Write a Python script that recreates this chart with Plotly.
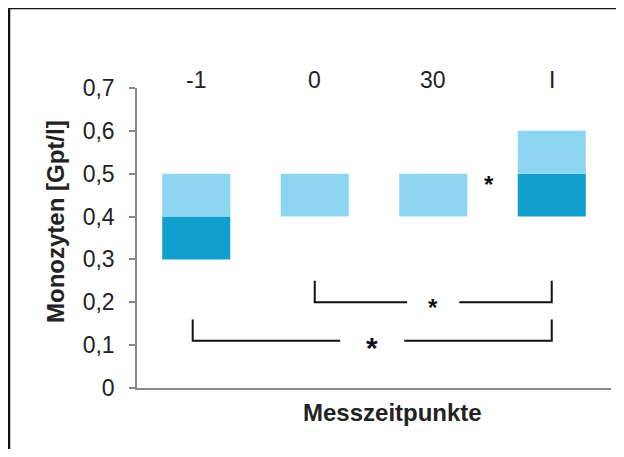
import plotly.graph_objects as go

categories = ["-1", "0", "30", "I"]
q1 = [0.3, 0.4, 0.4, 0.4]
median = [0.4, 0.4, 0.4, 0.5]
q3 = [0.5, 0.5, 0.5, 0.6]
y_ticks = [0, 0.1, 0.2, 0.3, 0.4, 0.5, 0.6, 0.7]
y_tick_labels = ["0", "0,1", "0,2", "0,3", "0,4", "0,5", "0,6", "0,7"]

# significance brackets: (from index, to index, bottom y, top y, label)
brackets = [(1, 3, 0.2, 0.25, "*"), (-0.03, 3, 0.11, 0.16, "*")]
star_single = (2.47, 0.49, "*")

DARK = "#109ecc"
LIGHT = "#8bd5f1"
FONT = "Liberation Sans, Arial, sans-serif"

x_idx = list(range(len(categories)))

fig = go.Figure()
fig.add_trace(go.Bar(x=x_idx, y=[m - a for m, a in zip(median, q1)], base=q1,
                     marker=dict(color=DARK, line=dict(width=0)), width=0.574,
                     showlegend=False, hoverinfo="skip"))
fig.add_trace(go.Bar(x=x_idx, y=[c - m for c, m in zip(q3, median)], base=median,
                     marker=dict(color=LIGHT, line=dict(width=0)), width=0.574,
                     showlegend=False, hoverinfo="skip"))

shapes = []
annotations = []
for (a, b, y0, y1, lab) in brackets:
    mid = (a + b) / 2
    gap = 0.22 if b - a < 2.5 else 0.27
    shapes.append(dict(type="path", xref="x", yref="y",
                       path=f"M {a},{y1} L {a},{y0} L {mid-gap},{y0}",
                       line=dict(color="#111", width=2)))
    shapes.append(dict(type="path", xref="x", yref="y",
                       path=f"M {mid+gap},{y0} L {b},{y0} L {b},{y1}",
                       line=dict(color="#111", width=2)))
    annotations.append(dict(x=mid, y=y0, xref="x", yref="y", text=f"<b>{lab}</b>",
                            showarrow=False, yshift=-7 if b - a > 2.5 else -5,
                            font=dict(size=30 if b - a > 2.5 else 24, color="#111", family=FONT)))

annotations.append(dict(x=star_single[0], y=star_single[1], xref="x", yref="y",
                        text=f"<b>{star_single[2]}</b>", showarrow=False, yshift=-6,
                        font=dict(size=24, color="#111", family=FONT)))

for i, c in enumerate(categories):
    annotations.append(dict(x=i, y=1.027, xref="x", yref="paper", text=c,
                            showarrow=False, font=dict(size=23, color="#222", family=FONT),
                            yanchor="middle"))

annotations.append(dict(x=(392 - 137) / 474, y=(388 - 412.5) / 300, xref="paper", yref="paper",
                        text="<b>Messzeitpunkte</b>", showarrow=False, yanchor="middle",
                        font=dict(size=24, color="#222", family=FONT)))
annotations.append(dict(x=(55 - 137) / 474, y=(388 - 222) / 300, xref="paper", yref="paper",
                        text="<b>Monozyten [Gpt/l]</b>", showarrow=False, textangle=-90,
                        xanchor="center", yanchor="middle",
                        font=dict(size=24, color="#222", family=FONT)))

# figure frame (left and top edges)
fx = (9 - 137) / 474
fy = (388 - 8) / 300
shapes.append(dict(type="line", xref="paper", yref="paper",
                   x0=fx, x1=fx, y0=fy, y1=(388 - 460) / 300,
                   line=dict(color="#111", width=2.5)))
shapes.append(dict(type="line", xref="paper", yref="paper",
                   x0=fx, x1=(630 - 137) / 474, y0=fy, y1=fy,
                   line=dict(color="#111", width=2.5)))

fig.update_layout(
    width=608, height=441,
    margin=dict(l=129, r=5, t=80, b=61),
    plot_bgcolor="white", paper_bgcolor="white",
    barmode="overlay",
    shapes=shapes, annotations=annotations,
    font=dict(family=FONT, color="#222"),
)
fig.update_xaxes(range=[-0.5, 3.5], showticklabels=False, ticks="", showgrid=False,
                 showline=True, linecolor="#888", linewidth=2, zeroline=False)
fig.update_yaxes(range=[0, 0.7], tickvals=y_ticks, ticktext=y_tick_labels, ticks="outside",
                 ticklen=6, tickcolor="#888", tickwidth=1.5, showline=True, linecolor="#888",
                 linewidth=1.5, showgrid=False, zeroline=False, ticklabelstandoff=10,
                 tickfont=dict(size=23, color="#222", family=FONT))

fig.write_html("out.html", config={"displayModeBar": False})
